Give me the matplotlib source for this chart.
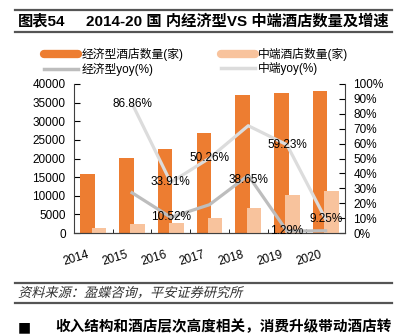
import numpy as np
import matplotlib.pyplot as plt
from matplotlib.lines import Line2D
from matplotlib.textpath import TextPath
from matplotlib.patches import PathPatch
from matplotlib.font_manager import FontProperties
from matplotlib.transforms import Affine2D, ScaledTranslation

plt.rcParams['font.family'] = ['Liberation Sans', 'Noto Sans CJK SC', 'DejaVu Sans']

# data
years = ['2014', '2015', '2016', '2017', '2018', '2019', '2020']
economy = [15800, 20100, 22500, 26800, 37000, 37500, 38100]
midscale = [1350, 2400, 2700, 4000, 6700, 10200, 11300]
economy_yoy = [None, 27.0, 10.52, 19.0, 38.65, 1.29, 1.5]
mid_yoy = [None, 86.86, 33.91, 50.26, 72.0, 59.23, 9.25]
eco_labels = [None, None, '10.52%', None, '38.65%', '1.29%', None]
mid_labels = [None, '86.86%', '33.91%', '50.26%', None, '59.23%', '9.25%']

c_eco = '#ED7D31'
c_mid = '#F8C39D'
c_eco_yoy = '#BDBDBD'
c_mid_yoy = '#DCDCDC'

fig = plt.figure(figsize=(4.06, 3.36), dpi=100)
ax = fig.add_axes([74 / 406, 1 - 233 / 336, 271 / 406, 149 / 336])
ax2 = ax.twinx()

x = np.arange(len(years))
w = 0.375
ax.bar(x - 0.145, economy, w, color=c_eco, zorder=2)
ax.bar(x + 0.145, midscale, w, color=c_mid, zorder=3)

ax.set_xlim(-0.5, 6.5)
ax.set_ylim(0, 40000)
ax.set_yticks(np.arange(0, 40001, 5000))
ax.tick_params(axis='y', direction='in', length=4, labelsize=8.5, pad=6)
ax.set_xticks(x)
ax.set_xticklabels(years, rotation=17, ha='right', rotation_mode='anchor', fontsize=8.5)
ax.tick_params(axis='x', length=0, pad=11)
shift = ScaledTranslation(-6 / 100, 0, fig.dpi_scale_trans)
for t in ax.get_xticklabels():
    t.set_transform(t.get_transform() + shift)
ax.set_xticks(np.arange(-0.5, 7, 1), minor=True)
ax.tick_params(axis='x', which='minor', direction='in', length=3)
ax.spines['top'].set_visible(False)
ax2.spines['top'].set_visible(False)
ax.spines['right'].set_visible(False)
for a in (ax, ax2):
    for s in ['left', 'right', 'bottom']:
        a.spines[s].set_color('#404040')

# yoy lines
xe = [i for i, v in enumerate(economy_yoy) if v is not None]
ye = [v for v in economy_yoy if v is not None]
xm = [i for i, v in enumerate(mid_yoy) if v is not None]
ym = [v for v in mid_yoy if v is not None]
ax2.plot(xm, ym, color=c_mid_yoy, lw=2.3, zorder=4)
ax2.plot(xe, ye, color=c_eco_yoy, lw=2.3, zorder=4)
ax2.set_ylim(0, 100)
ax2.set_yticks(np.arange(0, 101, 10))
ax2.set_yticklabels([f'{v}%' for v in range(0, 101, 10)])
ax2.tick_params(axis='y', direction='in', length=4, labelsize=8.5, pad=6)
ax2.spines['left'].set_visible(False)
ax.set_zorder(1)
ax2.set_zorder(2)
ax.patch.set_visible(False)

for i, lab in enumerate(mid_labels):
    if lab:
        ax2.text(i, mid_yoy[i], lab, ha='center', va='center', fontsize=8.5, zorder=5)
for i, lab in enumerate(eco_labels):
    if lab:
        dy = -3 if i == 4 else 0
        ax2.text(i, economy_yoy[i] + dy, lab, ha='center', va='center', fontsize=8.5, zorder=5)

# legend
handles = [
    Line2D([], [], color=c_eco, lw=6, solid_capstyle='round'),
    Line2D([], [], color=c_eco_yoy, lw=2.5),
    Line2D([], [], color=c_mid, lw=6, solid_capstyle='round'),
    Line2D([], [], color=c_mid_yoy, lw=2.5),
]
labels = ['经济型酒店数量(家)', '经济型yoy(%)', '中端酒店数量(家)', '中端yoy(%)']
fig.legend(handles, labels, ncol=2, loc='upper left', bbox_to_anchor=(44 / 406, 1 - 48 / 336),
           frameon=False, fontsize=8.5, handlelength=2.9, handletextpad=0.25,
           columnspacing=3.2, labelspacing=0.1, borderpad=0, borderaxespad=0)

# header / footer
line_kw = dict(color='#555555', lw=1.6, transform=fig.transFigure)
for yy in (10, 32, 283, 303):
    fig.add_artist(Line2D([15 / 406, 392 / 406], [1 - yy / 336] * 2, **line_kw))
fig.text(18 / 406, 1 - 21 / 336, '图表54', fontsize=11, fontweight='bold', va='center')
fig.text(86 / 406, 1 - 21 / 336, '2014-20 国 内经济型VS 中端酒店数量及增速', fontsize=11,
         fontweight='bold', va='center')

# source line, slanted like the original
src = TextPath((0, 0), '资料来源：盈蝶咨询，平安证券研究所', size=9.5,
               prop=FontProperties(family='Noto Sans CJK SC'))
src_tr = (Affine2D().skew_deg(14, 0).scale(1 / 72)
          + Affine2D().translate(18 / 100, (336 - 297) / 100) + fig.dpi_scale_trans)
fig.add_artist(PathPatch(src, transform=src_tr, color='#333333', lw=0))

fig.text(18 / 406, 1 - 327 / 336, '■', fontsize=10, va='center', family=['DejaVu Sans'])
fig.text(55 / 406, 1 - 327 / 336, '收入结构和酒店层次高度相关，消费升级带动酒店转', fontsize=10.5,
         fontweight='bold', va='center')

fig.savefig('out.png', dpi=100)
